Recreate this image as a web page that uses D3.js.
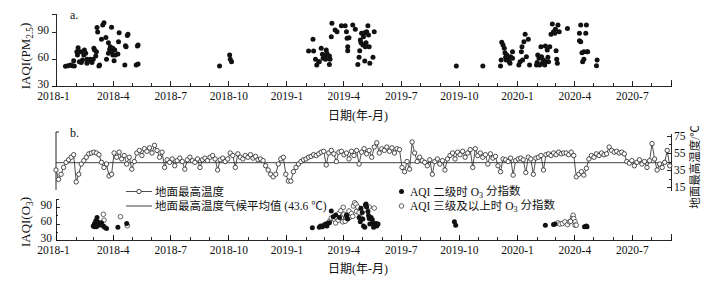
<!DOCTYPE html>
<html>
<head>
<meta charset="utf-8">
<script src="https://cdn.jsdelivr.net/npm/d3@7"></script>
<style>
  body { margin: 0; background: #fff; }
  svg text { font-family: "Times New Roman", "Liberation Serif", "Noto Sans CJK SC", serif; fill: #111; }
  .axis path, .axis line { stroke: #111; stroke-width: 0.9; shape-rendering: crispEdges; }
  .axis text { font-size: 11.5px; }
</style>
</head>
<body>
<svg id="chart" width="710" height="282"></svg>
<script>
"use strict";

// a. IAQI(PM2.5) on days where PM2.5 is the primary pollutant
var pm25Points = [
  ["2018-01-16",52],["2018-01-20",52.6],["2018-01-24",53.3],["2018-01-27",52.6],["2018-01-29",58],["2018-01-30",52.2],
  ["2018-02-03",68],["2018-02-04",64.4],["2018-02-05",72.6],["2018-02-07",57],["2018-02-09",68],["2018-02-10",56],
  ["2018-02-12",59],["2018-02-14",64.4],["2018-02-15",70],["2018-02-17",66.3],["2018-02-19",55.2],["2018-02-19",59.6],
  ["2018-02-22",57.8],["2018-02-24",59.6],["2018-02-27",56],["2018-03-01",59.6],["2018-03-02",72],["2018-03-03",70],
  ["2018-03-05",63.3],["2018-03-06",68],["2018-03-07",95],["2018-03-08",90],["2018-03-10",52.2],["2018-03-11",53.3],
  ["2018-03-14",82],["2018-03-16",97.8],["2018-03-18",100.4],["2018-03-21",84],["2018-03-22",59.6],["2018-03-25",78],
  ["2018-03-25",66.3],["2018-03-27",70.7],["2018-03-28",73.7],["2018-03-30",95.2],["2018-03-30",68],["2018-04-01",72],
  ["2018-04-01",64.4],["2018-04-03",58],["2018-04-04",70],["2018-04-05",64.4],["2018-04-09",65.6],["2018-04-10",79.3],
  ["2018-04-11",89.3],["2018-04-20",53.3],["2018-04-21",74.8],["2018-04-22",73.7],["2018-04-24",86],["2018-04-25",87.4],
  ["2018-05-08",53.3],["2018-05-10",74.4],["2018-05-11",54.4],["2018-05-11",75.5],
  ["2018-09-17",52.2],["2018-10-03",64.4],["2018-10-04",59.6],["2018-10-06",57],
  ["2019-02-05",69],["2019-02-12",82],["2019-02-13",69],["2019-02-16",59.6],["2019-02-18",53.3],["2019-02-21",57],
  ["2019-02-22",57],["2019-02-25",72],["2019-02-27",65.2],["2019-02-28",60.7],["2019-03-03",63.3],["2019-03-04",59.6],
  ["2019-03-05",70],["2019-03-06",66.3],["2019-03-10",63.3],["2019-03-11",59.6],["2019-03-10",54],["2019-03-13",84.8],
  ["2019-03-14",99.6],["2019-03-19",92.2],["2019-03-22",90.4],["2019-03-29",97],["2019-04-04",97],["2019-04-06",90.4],
  ["2019-04-07",83],["2019-04-10",83.7],["2019-04-08",73.7],["2019-04-08",69.3],["2019-04-16",97.8],["2019-04-20",93],
  ["2019-04-24",54],["2019-04-26",62],["2019-04-27",69.3],["2019-04-28",81],["2019-04-29",78],["2019-04-30",88.5],
  ["2019-05-02",75.5],["2019-05-03",84.8],["2019-05-05",89.3],["2019-05-05",57.8],["2019-05-06",73.7],["2019-05-07",78],
  ["2019-05-08",90.4],["2019-05-10",97],["2019-05-11",86.7],["2019-05-12",73.7],["2019-05-13",55.2],["2019-05-18",62],
  ["2019-05-20",90.4],["2019-09-27",52.2],
  ["2019-11-08",52.2],["2019-12-06",52.2],["2019-12-07",59],["2019-12-08",78.5],["2019-12-10",75.6],["2019-12-12",72],
  ["2019-12-13",67],["2019-12-14",62],["2019-12-15",59],["2019-12-16",64.4],["2019-12-18",60.7],["2019-12-20",57],
  ["2019-12-21",55.2],["2019-12-22",62.6],["2019-12-25",68],["2019-12-25",60.7],["2020-01-04",53.3],["2020-01-06",57],
  ["2020-01-08",68],["2020-01-09",73.7],["2020-01-10",59],["2020-01-12",79.3],["2020-01-14",87.4],["2020-01-16",62.6],
  ["2020-01-19",82],["2020-01-21",53.3],["2020-02-01",53.3],["2020-02-02",56],["2020-02-03",64.4],["2020-02-05",60.7],
  ["2020-02-06",53.3],["2020-02-08",73.7],["2020-02-09",62.6],["2020-02-10",55.2],["2020-02-12",59],["2020-02-14",53.3],
  ["2020-02-15",74.4],["2020-02-16",57],["2020-02-18",70],["2020-02-19",62],["2020-02-20",57],["2020-02-22",73.7],
  ["2020-02-24",87.4],["2020-02-26",99],["2020-02-28",90.4],["2020-03-01",88.5],["2020-03-02",93],["2020-03-03",69.3],
  ["2020-03-04",59.6],["2020-03-05",55.2],["2020-03-06",97.8],["2020-03-08",90.4],["2020-03-21",94],["2020-04-09",88.5],
  ["2020-04-09",80.4],["2020-04-11",97.8],["2020-04-11",79.3],["2020-04-13",67],["2020-04-14",57],["2020-04-16",59.6],
  ["2020-04-16",68],["2020-04-19",88.5],["2020-04-20",97.8],["2020-04-21",68],["2020-04-22",68],["2020-05-06",52.6],
  ["2020-05-07",59]
];

// b. ground max temperature (deg C), one reading every 4 days from 2018-01-01
var tempStart = "2018-01-01";
var tempStepDays = 4;
var tempMax = [
  35,24,30,38,44,47,50,53,21,30,42,46,50,54,55,56,55,53,44,38,42,28,30,55,50,56,48,52,42,50,
  36,45,55,58,52,60,57,61,55,64,58,50,56,38,
  47,44,48,40,46,49,45,36,47,50,46,44,48,38,47,49,46,50,52,48,35,47,49,45,48,
  55,52,38,54,50,48,52,50,53,49,51,47,48,46,40,35,30,27,30,42,48,50,30,22,22,
  33,38,42,45,47,48,50,51,53,52,54,56,57,41,55,58,54,45,56,57,53,
  55,48,57,52,58,42,56,60,54,58,50,62,67,55,60,58,62,57,61,55,60,59,
  38,33,45,36,68,55,45,50,46,44,40,47,30,45,48,42,46,35,48,52,55,48,56,53,57,50,55,
  59,38,60,52,55,50,53,42,54,49,51,40,33,48,47,45,49,29,46,48,
  49,47,32,50,48,30,49,50,52,35,53,54,52,55,53,56,54,55,55,53,56,52,27,30,
  33,29,37,48,52,50,54,52,55,53,54,62,58,56,57,55,56,54,
  45,43,46,40,44,47,42,45,38,46,66,48,35,42,38,44,58,40
];
var tempClimateMean = 43.6;

// b. IAQI(O3): AQI grade II days and grade III+ days
var o3Grade2 = [
  ["2018-03-01",55.5],["2018-03-03",60],["2018-03-03",54],["2018-03-05",65],["2018-03-06",54],["2018-03-07",71],
  ["2018-03-08",63],["2018-03-10",57],["2018-03-12",58.5],["2018-03-14",61.5],["2018-03-17",55.5],["2018-03-19",53],
  ["2018-03-22",51],["2018-04-09",53],["2018-04-23",60],
  ["2019-02-11",52.4],["2019-02-22",53],["2019-02-24",55.5],["2019-02-27",54],["2019-03-01",57],["2019-03-04",59],
  ["2019-03-06",55.5],["2019-03-07",60],["2019-03-10",61.5],["2019-03-13",82.7],["2019-03-16",72.4],["2019-03-20",75.5],
  ["2019-03-26",71],["2019-04-06",75.5],["2019-04-07",70],["2019-04-08",68],["2019-04-26",71],["2019-04-28",63],
  ["2019-04-29",87.6],["2019-05-01",80],["2019-05-02",68],["2019-05-03",55.5],["2019-05-05",53],["2019-05-06",93.6],
  ["2019-05-07",95.5],["2019-05-08",90],["2019-05-10",82],["2019-05-11",74.5],["2019-05-12",69],["2019-05-13",59],
  ["2019-05-15",71],["2019-05-17",67],["2019-05-18",61],["2019-05-19",53],["2019-05-23",60],["2019-05-24",55.5],
  ["2019-05-26",59],["2019-09-24",63],["2019-09-26",57],
  ["2020-02-15",57],["2020-02-28",58],["2020-03-01",59],["2020-04-17",54],["2020-04-20",55.5],["2020-04-21",54]
];
var o3Grade3 = [
  ["2018-03-17",76.7],["2018-03-18",66],["2018-04-13",72.4],["2018-04-24",56],
  ["2019-03-10",64],["2019-03-13",70],["2019-03-18",67.6],["2019-03-20",61],["2019-03-21",71],["2019-03-24",66],
  ["2019-03-25",78.5],["2019-03-28",83.3],["2019-03-29",71],["2019-03-31",63],["2019-04-01",89.4],["2019-04-02",77],
  ["2019-04-04",64],["2019-04-05",71],["2019-04-07",73],["2019-04-10",82.7],["2019-04-11",71],["2019-04-14",78],
  ["2019-04-16",73],["2019-04-17",91.8],["2019-04-19",97.8],["2019-04-21",95],["2019-04-22",82],["2019-04-24",90],
  ["2019-04-26",80],["2019-04-28",71],["2019-05-12",90],["2019-05-20",88],
  ["2020-03-06",61],["2020-03-09",59],["2020-03-13",60],["2020-03-17",63],["2020-03-21",58],["2020-03-24",63],
  ["2020-03-26",64],["2020-03-29",71],["2020-03-30",75],["2020-03-31",69],["2020-04-02",63],["2020-04-02",57],
  ["2020-04-04",57]
];

var iaqiTicks = [30, 60, 90];
var tempTicks = [15, 35, 55, 75];

var parse = d3.timeParse("%Y-%m-%d");
var svg = d3.select("#chart");

var x = d3.scaleTime().domain([new Date(2018, 0, 1), new Date(2020, 8, 1)]).range([56, 671]);
var yPm = d3.scaleLinear().domain([30, 110]).range([86, 14]);
var yTemp = d3.scaleLinear().domain([11.5, 78.5]).range([190, 133]);
var yO3 = d3.scaleLinear().domain([30, 105]).range([240, 198.75]);

var months = d3.timeMonth.range(new Date(2018, 0, 1), new Date(2020, 8, 2));
var quarters = months.filter(function (d) { return d.getMonth() % 3 === 0; });
var fmt = d3.timeFormat("%Y-%-m");

function timeAxis(y0) {
  var g = svg.append("g").attr("class", "axis").attr("transform", "translate(0," + y0 + ")");
  g.call(d3.axisBottom(x).tickValues(months).tickSizeInner(-3).tickSizeOuter(-6).tickFormat(""));
  var g2 = svg.append("g").attr("class", "axis").attr("transform", "translate(0," + y0 + ")");
  g2.call(d3.axisBottom(x).tickValues(quarters).tickSizeInner(-5).tickSizeOuter(0).tickPadding(6).tickFormat(fmt));
  g2.select(".domain").remove();
  g2.selectAll("text").attr("font-size", 12);
  // first label sits a little left of its tick in the original
  g2.selectAll(".tick").filter(function (d, i) { return i === 0; }).select("text").attr("dx", -3);
}

function subText(sel, parts) {
  // parts: [text, isSub, backToBaseline]
  parts.forEach(function (p) {
    var t = sel.append("tspan").text(p[0]);
    if (p[1]) t.attr("font-size", "0.72em").attr("dy", "0.3em");
    else if (p[2]) t.attr("dy", "-0.3em");
  });
}

// ---------- panel a ----------
timeAxis(86);
svg.append("g").attr("class", "axis").attr("transform", "translate(56,0)")
  .call(d3.axisLeft(yPm).tickValues(iaqiTicks).tickSizeInner(4).tickSizeOuter(4).tickPadding(3))
  .selectAll(".tick text").attr("dy", "0.1em");

svg.append("g").selectAll("circle").data(pm25Points).enter().append("circle")
  .attr("cx", function (d) { return x(parse(d[0])); })
  .attr("cy", function (d) { return yPm(d[1]); })
  .attr("r", 2.5).attr("fill", "#111");

svg.append("text").attr("x", 70).attr("y", 19).attr("font-size", 12).text("a.");
subText(svg.append("text").attr("transform", "translate(30,56) rotate(-90)")
  .attr("text-anchor", "middle").attr("font-size", 13),
  [["IAQI(PM"], ["2.5", true], [")", false, true]]);
svg.append("text").attr("x", 358).attr("y", 120).attr("text-anchor", "middle")
  .attr("font-size", 12).text("日期(年-月)");

// ---------- panel b: temperature ----------
svg.append("path").attr("d", "M59,132H56V190").attr("fill", "none")
  .attr("stroke", "#111").attr("stroke-width", 0.9);
svg.append("g").attr("class", "axis").attr("transform", "translate(671,0)")
  .call(d3.axisRight(yTemp).tickValues(tempTicks).tickSizeInner(-4).tickSizeOuter(0).tickPadding(3));
svg.append("g").attr("class", "axis").attr("transform", "translate(671,0)")
  .call(d3.axisRight(yTemp).tickValues([25, 45, 65]).tickSizeInner(-2).tickSizeOuter(0).tickFormat(""))
  .select(".domain").remove();

svg.append("line").attr("x1", x.range()[0]).attr("x2", x.range()[1])
  .attr("y1", yTemp(tempClimateMean)).attr("y2", yTemp(tempClimateMean))
  .attr("stroke", "#111").attr("stroke-width", 0.8);

var t0 = parse(tempStart);
var tempData = tempMax.map(function (v, i) { return [d3.timeDay.offset(t0, i * tempStepDays), v]; });
svg.append("path").datum(tempData)
  .attr("d", d3.line().x(function (d) { return x(d[0]); }).y(function (d) { return yTemp(d[1]); }))
  .attr("fill", "none").attr("stroke", "#222").attr("stroke-width", 0.8);
svg.append("g").selectAll("circle").data(tempData).enter().append("circle")
  .attr("cx", function (d) { return x(d[0]); })
  .attr("cy", function (d) { return yTemp(d[1]); })
  .attr("r", 2.2).attr("fill", "#fff").attr("stroke", "#222").attr("stroke-width", 0.8);

svg.append("text").attr("x", 70).attr("y", 137).attr("font-size", 12).text("b.");
svg.append("text").attr("transform", "translate(699,167) rotate(-90)")
  .attr("text-anchor", "middle").attr("font-size", 11.5).text("地面最高温度/℃");

// ---------- panel b: O3 ----------
timeAxis(240);
svg.append("g").attr("class", "axis").attr("transform", "translate(56,0)")
  .call(d3.axisLeft(yO3).tickValues(iaqiTicks).tickSizeInner(-4).tickSizeOuter(-3).tickPadding(4))
  .selectAll(".tick text").attr("dy", "0.1em");
svg.append("g").attr("class", "axis").attr("transform", "translate(56,0)")
  .call(d3.axisLeft(yO3).tickValues([45, 75]).tickSizeInner(-2).tickSizeOuter(0).tickFormat(""))
  .select(".domain").remove();

svg.append("g").selectAll("circle").data(o3Grade3).enter().append("circle")
  .attr("cx", function (d) { return x(parse(d[0])); })
  .attr("cy", function (d) { return yO3(d[1]); })
  .attr("r", 2.3).attr("fill", "#fff").attr("stroke", "#222").attr("stroke-width", 0.7);
svg.append("g").selectAll("circle").data(o3Grade2).enter().append("circle")
  .attr("cx", function (d) { return x(parse(d[0])); })
  .attr("cy", function (d) { return yO3(d[1]); })
  .attr("r", 2.5).attr("fill", "#111");

subText(svg.append("text").attr("transform", "translate(30,222) rotate(-90)")
  .attr("text-anchor", "middle").attr("font-size", 13),
  [["IAQI(O"], ["3", true], [")", false, true]]);
svg.append("text").attr("x", 358).attr("y", 273).attr("text-anchor", "middle")
  .attr("font-size", 12).text("日期(年-月)");

// ---------- legend ----------
var lg = svg.append("g").attr("font-size", 11.5);
lg.append("line").attr("x1", 126).attr("x2", 152).attr("y1", 191.5).attr("y2", 191.5)
  .attr("stroke", "#222").attr("stroke-width", 0.8);
lg.append("circle").attr("cx", 139).attr("cy", 191.5).attr("r", 2.2)
  .attr("fill", "#fff").attr("stroke", "#222").attr("stroke-width", 0.8);
lg.append("text").attr("x", 155).attr("y", 195.5).text("地面最高温度");
lg.append("line").attr("x1", 126).attr("x2", 152).attr("y1", 206).attr("y2", 206)
  .attr("stroke", "#111").attr("stroke-width", 0.8);
lg.append("text").attr("x", 155).attr("y", 210).text("地面最高温度气候平均值 (43.6 ℃)");

lg.append("circle").attr("cx", 401.5).attr("cy", 191.5).attr("r", 2.5).attr("fill", "#111");
subText(lg.append("text").attr("x", 410).attr("y", 195.5),
  [["AQI 二级时 O"], ["3", true], [" 分指数", false, true]]);
lg.append("circle").attr("cx", 401.5).attr("cy", 206).attr("r", 2.3)
  .attr("fill", "#fff").attr("stroke", "#222").attr("stroke-width", 0.7);
subText(lg.append("text").attr("x", 410).attr("y", 210),
  [["AQI 三级及以上时 O"], ["3", true], [" 分指数", false, true]]);
</script>
</body>
</html>
